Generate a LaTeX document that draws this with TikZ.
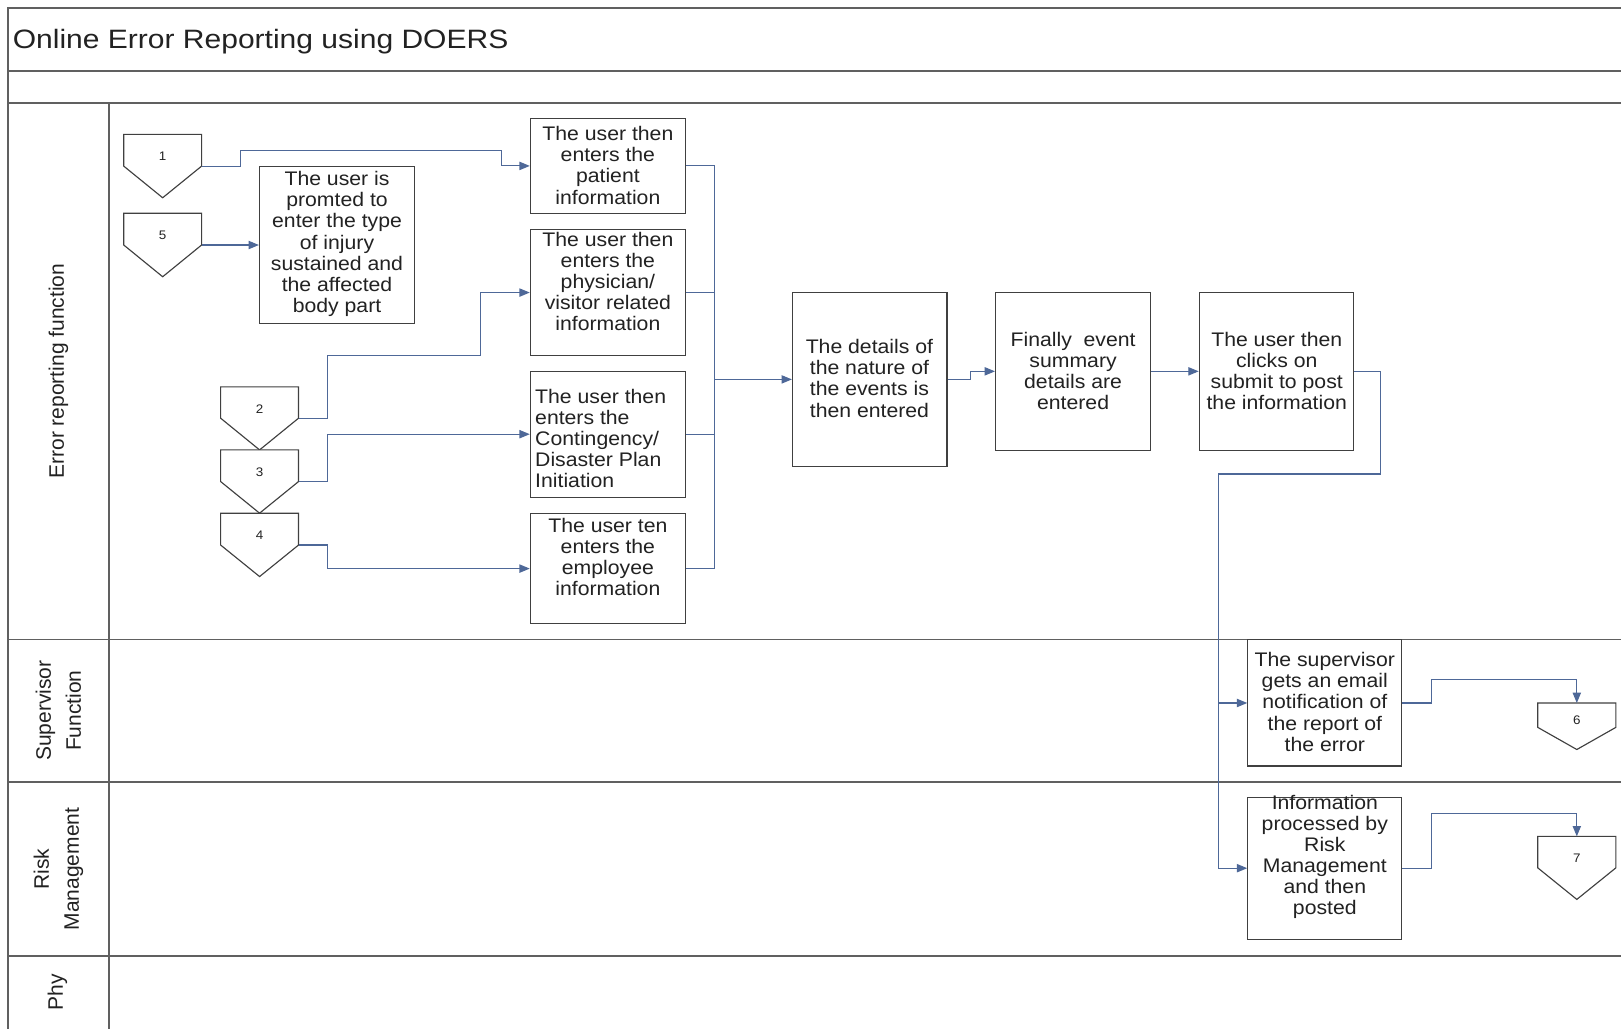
\documentclass[tikz,border=0pt]{standalone}
\usepackage{fontspec}
\setmainfont{Liberation Sans}
\newfontfamily\boxfont{Liberation Sans}[FakeStretch=1.08]
\newfontfamily\titlefont{Liberation Sans}[FakeStretch=1.13]
\usetikzlibrary{arrows.meta}

\definecolor{frameline}{RGB}{96,96,96}
\definecolor{boxline}{RGB}{64,64,64}
\definecolor{flow}{RGB}{78,104,152}
\definecolor{txt}{RGB}{34,34,34}

\tikzset{
  frame/.style={draw=frameline, line width=1.5pt},
  box/.style={draw=boxline, line width=1.1pt, fill=white, inner sep=0pt},
  btxt/.style={font=\boxfont\fontsize{19}{20.4}\selectfont, text=txt, align=center, inner sep=0pt},
  lanelab/.style={font=\fontsize{20.3}{29}\selectfont, text=txt, align=center, inner sep=0pt, rotate=90},
  numlab/.style={font=\boxfont\fontsize{12}{14}\selectfont, text=txt, inner sep=0pt},
  offp/.style={draw=boxline, line width=1.1pt, fill=white, line join=miter},
  link/.style={draw=flow, line width=1.1pt},
  conn/.style={link, -{Triangle[length=10pt,width=8pt]}},
}

% off-page connector: name, left x, right x, top y, shoulder y, tip y, label
\newcommand{\offpage}[7]{%
  \draw[offp] (#2,#4) -- (#3,#4) -- (#3,#5) -- ({(#2+#3)/2},#6) -- (#2,#5) -- cycle;
  \node[numlab] (#1) at ({(#2+#3)/2},{#4+0.7*(#5-#4)}) {#7};
  \coordinate (#1-r) at (#3,#5);
  \coordinate (#1-t) at ({(#2+#3)/2},#4);
}

\begin{document}
\begin{tikzpicture}[x=1pt,y=-1pt]
\useasboundingbox (0,0) rectangle (1568,995);
\fill[white] (0,0) rectangle (1568,995);

% pool frame and lanes
\draw[frame] (1568,7.7) -- (7.5,7.7) -- (7.5,995);
\draw[frame] (7.5,68.7) -- (1568,68.7);
\draw[frame] (7.5,99.5) -- (1568,99.5);
\draw[frame] (105.5,99.5) -- (105.5,995);
\draw[frame] (7.5,618.5) -- (1568,618.5);
\draw[frame] (7.5,756.5) -- (1568,756.5);
\draw[frame] (7.5,924.5) -- (1568,924.5);

\node[anchor=base west, inner sep=0pt, text=txt, font=\titlefont\fontsize{25.7}{30}\selectfont] (title) at (12.2,46.8) {Online Error Reporting using DOERS};

\node[lanelab] (lane1) at (56.5,359) {Error reporting function};
\node[lanelab] (lane2) at (56.5,687.5) {Supervisor\\Function};
\node[lanelab] (lane3) at (56.5,840.5) {Risk\\Management};
\node[lanelab] (lane4) at (55.5,960) {Phy};

% off-page connectors
\offpage{p1}{119.7}{195}{130}{160.7}{191.3}{1}
\offpage{p5}{119.7}{195}{206.3}{237}{267.7}{5}
\offpage{p2}{213.4}{288.8}{374.2}{404.5}{435.2}{2}
\offpage{p3}{213.4}{288.8}{435.2}{465.8}{496.4}{3}
\offpage{p4}{213.4}{288.8}{496.4}{527.2}{557.7}{4}
\offpage{p6}{1487.5}{1563}{680}{703.6}{725}{6}
\offpage{p7}{1487.5}{1563}{809}{839.5}{870}{7}

% process boxes
\node[box, minimum width=150pt, minimum height=92pt] (b1) at (588,160.5) {};
\node[box, minimum width=150pt, minimum height=152pt] (b5) at (326,237) {};
\node[box, minimum width=150pt, minimum height=122pt] (b2) at (588,283) {};
\node[box, minimum width=150pt, minimum height=122pt] (b3) at (588,420) {};
\node[box, minimum width=150pt, minimum height=106pt] (b4) at (588,550) {};
\node[box, minimum width=149.5pt, minimum height=168pt] (det) at (841.3,367) {};
\node[box, minimum width=150pt, minimum height=152.5pt] (fin) at (1038,359.2) {};
\node[box, minimum width=149.5pt, minimum height=152.5pt] (sub) at (1234.8,359.2) {};
\node[box, minimum width=149pt, minimum height=122pt] (sup) at (1281.5,680) {};
\node[box, minimum width=149pt, minimum height=137.5pt] (rm) at (1281.5,839.8) {};

% box texts
\node[btxt] (b1t) at (588,160) {The user then\\enters the\\patient\\information};
\node[btxt] (b5t) at (326,236) {The user is\\promted to\\enter the type\\of injury\\sustained and\\the affected\\body part};
\node[btxt] (b2t) at (588,272) {The user then\\enters the\\physician/\\visitor related\\information};
\node[btxt, align=left, anchor=west] (b3t) at (517.5,424) {The user then\\enters the\\Contingency/\\Disaster Plan\\Initiation};
\node[btxt] (b4t) at (588,539) {The user ten\\enters the\\employee\\information};
\node[btxt] (dett) at (841,366) {The details of\\the nature of\\the events is\\then entered};
\node[btxt] (fint) at (1038,358.6) {Finally~ event\\summary\\details are\\entered};
\node[btxt] (subt) at (1235,358.6) {The user then\\clicks on\\submit to post\\the information};
\node[btxt] (supt) at (1281.5,679) {The supervisor\\gets an email\\notification of\\the report of\\the error};
\node[btxt] (rmt) at (1281.5,829) {Information\\processed by\\Risk\\Management\\and then\\posted};

% flow connectors
\draw[conn] (p1-r) -- (232.5,160.7) |- (485.3,145.7) |- (b1.west);
\draw[conn] (p5-r) -- (b5.west);
\draw[conn] (p2-r) -| (316.7,343.9) -| (464.7,283) -- (b2.west);
\draw[conn] (p3-r) -| (316.7,420) -- (b3.west);
\draw[conn] (p4-r) -| (316.7,550) -- (b4.west);

\coordinate (bus) at (691.5,367);
\draw[link] (b1.east) -- (691.5,160.5) -- (691.5,550) -- (b4.east);
\draw[link] (b2.east) -- (691.5,283);
\draw[link] (b3.east) -- (691.5,420);
\draw[conn] (bus) -- (det.west);

\draw[conn] (det.east) -- (938.5,367) |- (fin.west);
\draw[conn] (fin.east) -- (sub.west);

\coordinate (split) at (1178.5,680);
\draw[conn] (sub.east) -| (1335,458.5) -| (split) -- (sup.west);
\draw[conn] (split) |- (rm.west);

\draw[conn] (sup.east) -| (1384.5,657) -| (p6-t);
\draw[conn] (rm.east) -| (1384.5,787) -| (p7-t);
\end{tikzpicture}
\end{document}
